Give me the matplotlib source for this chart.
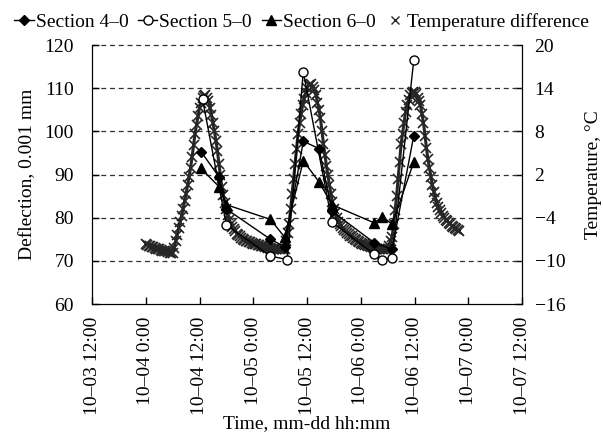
import numpy as np
import pandas as pd
import matplotlib
matplotlib.use("Agg")
import matplotlib.pyplot as plt
from matplotlib.lines import Line2D

plt.rcParams['font.family'] = ['Liberation Serif', 'DejaVu Serif']
plt.rcParams['font.size'] = 14

# Temperature difference, °C, every 20 min from 10-04 0:00
temp_values = [
    -7.7, -7.8, -7.9, -8.0, -8.1, -8.1, -8.2, -8.3, -8.4, -8.4, -8.5, -8.6,
    -8.6, -8.7, -8.7, -8.8, -8.9, -8.9, -8.9, -8.2, -7.3, -6.4, -5.5, -4.6,
    -3.7, -2.8, -1.7, -0.7, 0.5, 1.7, 2.9, 4.4, 6.1, 7.7, 8.9, 10.1,
    11.3, 12.0, 12.6, 12.9, 13.0, 12.7, 12.2, 11.3, 10.3, 9.2, 8.0, 6.7,
    5.3, 3.5, 1.9, 0.2, -0.9, -1.9, -2.8, -3.6, -4.3, -4.9, -5.3, -5.6,
    -5.9, -6.2, -6.4, -6.6, -6.8, -6.9, -7.1, -7.2, -7.3, -7.4, -7.4, -7.5,
    -7.6, -7.7, -7.7, -7.8, -7.8, -7.9, -8.0, -8.0, -8.1, -8.1, -8.2, -8.2,
    -8.3, -8.3, -8.3, -8.4, -8.4, -8.4, -8.4, -8.4, -8.4, -8.3, -7.3, -6.1,
    -4.9, -2.8, -0.7, 1.4, 3.5, 5.6, 7.7, 9.1, 10.4, 11.6, 12.5, 13.3,
    14.0, 14.4, 14.5, 14.6, 14.2, 13.8, 13.1, 12.0, 11.0, 9.8, 8.0, 6.3,
    4.7, 3.2, 1.9, 0.5, -0.7, -1.8, -2.8, -3.4, -4.1, -4.6, -4.9, -5.2,
    -5.5, -5.7, -5.9, -6.1, -6.3, -6.5, -6.6, -6.8, -7.0, -7.1, -7.2, -7.4,
    -7.5, -7.6, -7.7, -7.8, -7.8, -8.0, -8.0, -8.1, -8.1, -8.2, -8.3, -8.3,
    -8.3, -8.3, -8.4, -8.4, -8.4, -8.4, -8.3, -7.9, -7.3, -6.7, -4.9, -2.9,
    -1.0, 1.4, 3.8, 6.2, 7.7, 9.2, 10.7, 11.6, 12.4, 13.1, 13.3, 13.5,
    13.5, 13.2, 12.7, 12.2, 11.6, 10.4, 9.2, 7.4, 5.7, 4.1, 2.9, 1.7,
    0.5, -0.4, -1.2, -2.0, -2.5, -3.0, -3.4, -3.7, -4.0, -4.3, -4.5, -4.7,
    -4.9, -5.1, -5.3, -5.5, -5.6, -5.7, -5.8,
]
temp_time = pd.date_range("2019-10-04 00:00", periods=len(temp_values), freq="20min")

# Deflection, 0.001 mm
s4_time = pd.to_datetime([
    "2019-10-04 12:20", "2019-10-04 16:20", "2019-10-04 18:00", "2019-10-05 03:50",
    "2019-10-05 07:00", "2019-10-05 11:10", "2019-10-05 14:40", "2019-10-05 17:35",
    "2019-10-06 03:00", "2019-10-06 07:00", "2019-10-06 11:50"])
s4_vals = [95.3, 89.5, 82.0, 75.0, 73.3, 97.7, 96.0, 81.5, 74.2, 72.7, 99.0]

s5_time = pd.to_datetime([
    "2019-10-04 12:40", "2019-10-04 18:00", "2019-10-05 03:50", "2019-10-05 07:35",
    "2019-10-05 11:10", "2019-10-05 17:35", "2019-10-06 03:00", "2019-10-06 04:50",
    "2019-10-06 07:00", "2019-10-06 11:50"])
s5_vals = [107.5, 78.3, 71.1, 70.3, 113.8, 79.0, 71.5, 70.3, 70.7, 116.5]

s6_time = pd.to_datetime([
    "2019-10-04 12:20", "2019-10-04 16:20", "2019-10-04 18:00", "2019-10-05 03:50",
    "2019-10-05 07:00", "2019-10-05 11:10", "2019-10-05 14:40", "2019-10-05 17:35",
    "2019-10-06 03:00", "2019-10-06 04:50", "2019-10-06 07:00", "2019-10-06 11:50"])
s6_vals = [91.4, 87.2, 83.0, 79.6, 75.5, 93.2, 88.3, 83.0, 78.8, 80.2, 78.5, 92.9]

xtick_time = pd.date_range("2019-10-03 12:00", periods=9, freq="12h")
xtick_labels = ["10–03 12:00", "10–04 0:00", "10–04 12:00", "10–05 0:00", "10–05 12:00",
                "10–06 0:00", "10–06 12:00", "10–07 0:00", "10–07 12:00"]

fig = plt.figure(figsize=(6.03, 4.34), dpi=100)
ax = fig.add_axes([0.1526, 0.2995, 0.7131, 0.5968])
ax2 = ax.twinx()
ax.set_zorder(ax2.get_zorder() + 1)
ax.patch.set_visible(False)

# dense crosses: thin joining line behind them fills the band as in the source
ax2.plot(temp_time, temp_values, ls='-', lw=2.2, color='#262626',
         marker='x', ms=7, mew=1.2)
temp_handle = Line2D([], [], ls='none', marker='x', ms=6, mew=1.0, color='#262626')

ax.plot(s4_time, s4_vals, marker='D', ms=5, color='black', lw=1, label='Section 4–0')
ax.plot(s5_time, s5_vals, marker='o', ms=6.5, mfc='white', mec='black', mew=1,
        color='black', lw=1, label='Section 5–0')
ax.plot(s6_time, s6_vals, marker='^', ms=7, color='black', lw=1, label='Section 6–0')

ax.set_ylim(60, 120)
ax.set_yticks(np.arange(60, 121, 10))
ax2.set_ylim(-16, 20)
ax2.set_yticks(np.arange(-16, 21, 6))
ax.set_xlim(xtick_time[0], xtick_time[-1])
ax.set_xticks(xtick_time)
ax.set_xticklabels(xtick_labels, rotation=90)

for y in range(70, 121, 10):
    ax.axhline(y, color='#333333', lw=0.9, ls=(0, (4, 3)), zorder=0, clip_on=False)

for a in (ax, ax2):
    a.spines['top'].set_visible(False)
    a.tick_params(direction='in', length=5, width=1)
ax.tick_params(axis='x', pad=9)
ax.tick_params(axis='y', pad=13)
ax2.tick_params(axis='y', pad=9)

ax.set_ylabel("Deflection, 0.001 mm", labelpad=6)
ax2.set_ylabel("Temperature, °C", labelpad=14)
ax.set_xlabel("Time, mm-dd hh:mm", labelpad=0)

h1, l1 = ax.get_legend_handles_labels()
fig.legend(h1 + [temp_handle], l1 + ['Temperature difference'], loc='upper center',
           bbox_to_anchor=(0.5, 1.01), ncol=4, frameon=False, handlelength=1.0,
           handletextpad=0.1, columnspacing=0.5, fontsize=14)

fig.savefig("out.png", dpi=100)
